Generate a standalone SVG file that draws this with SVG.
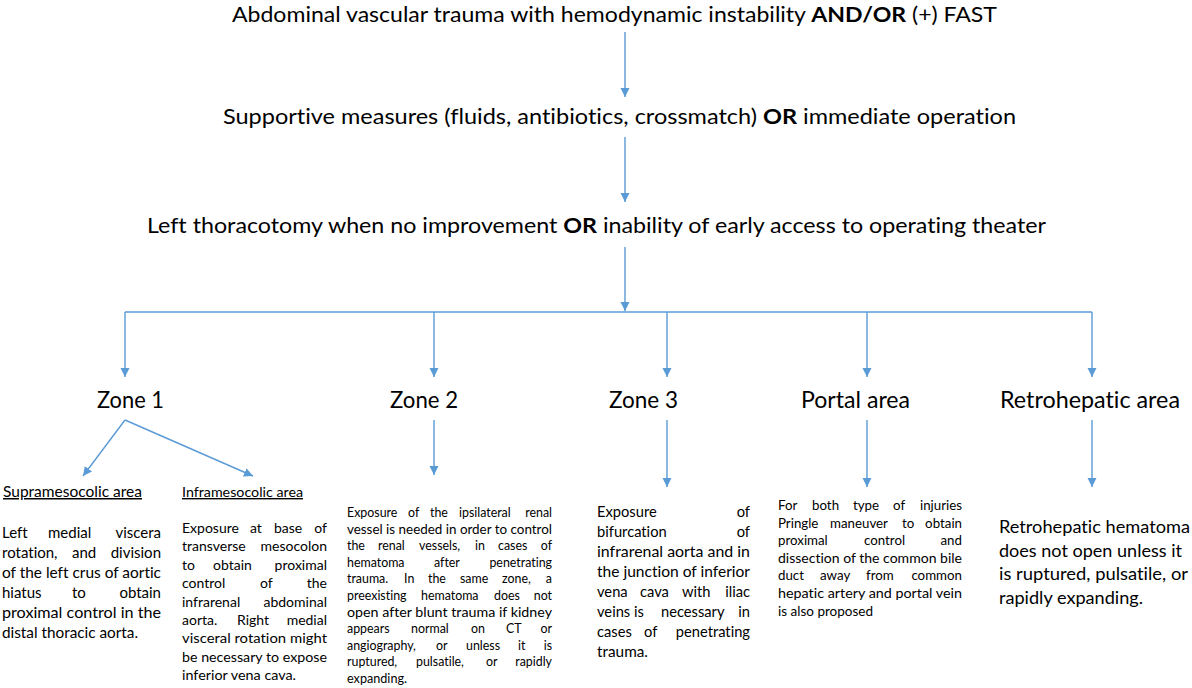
<svg xmlns="http://www.w3.org/2000/svg" width="1192" height="688" viewBox="0 0 1192 688">
<style>
text{font-family:Lato,"Open Sans","Liberation Sans",sans-serif;fill:#000;font-variant-ligatures:none}
.t{font-size:21px}
.z{font-size:22.4px}
.b{font-weight:bold}
.s1{font-size:15px}
.s2{font-size:14px}
.s3{font-size:12.4px}
.s4{font-size:14.7px}
.s5{font-size:13.3px}
.s6{font-size:17.8px}
.e{text-anchor:end}
.u{text-decoration:underline}
.c{fill:none;stroke:#5B9BD5;stroke-width:1.4;marker-end:url(#ah)}
</style>
<defs>
<marker id="ah" markerUnits="userSpaceOnUse" markerWidth="10" markerHeight="10" refX="9" refY="4.5" orient="auto">
<path d="M0,0 L9,4.5 L0,9 z" fill="#5B9BD5"/>
</marker>
</defs>
<rect width="1192" height="688" fill="#fff"/>
<g id="connectors">
<path class="c" d="M625,32 V97"/>
<path class="c" d="M625,137 V202"/>
<path class="c" d="M625,247 V311"/>
<path d="M125,312 H1092" fill="none" stroke="#5B9BD5" stroke-width="1.4"/>
<path class="c" d="M125,312 V377"/>
<path class="c" d="M434,312 V377"/>
<path class="c" d="M667,312 V377"/>
<path class="c" d="M867,312 V377"/>
<path class="c" d="M1092,312 V377"/>
<path class="c" d="M125,420 L83,476"/>
<path class="c" d="M125,420 L253,476"/>
<path class="c" d="M434,420 V475"/>
<path class="c" d="M667,420 V487"/>
<path class="c" d="M867,420 V487"/>
<path class="c" d="M1092,420 V487"/>
</g>
<g id="title1"><text class="t" x="232" y="22" textLength="765" lengthAdjust="spacingAndGlyphs">Abdominal vascular trauma with hemodynamic instability <tspan class="b">AND/OR</tspan> (+) FAST</text></g>
<g id="title2"><text class="t" x="223" y="124" textLength="793" lengthAdjust="spacingAndGlyphs">Supportive measures (fluids, antibiotics, crossmatch) <tspan class="b">OR</tspan> immediate operation</text></g>
<g id="title3"><text class="t" x="147" y="233" textLength="899" lengthAdjust="spacingAndGlyphs">Left thoracotomy when no improvement <tspan class="b">OR</tspan> inability of early access to operating theater</text></g>
<g id="zone1"><text class="z" x="97" y="408" textLength="67" lengthAdjust="spacingAndGlyphs">Zone 1</text></g>
<g id="zone2"><text class="z" x="390" y="408" textLength="68" lengthAdjust="spacingAndGlyphs">Zone 2</text></g>
<g id="zone3"><text class="z" x="609" y="408" textLength="69" lengthAdjust="spacingAndGlyphs">Zone 3</text></g>
<g id="portal"><text class="z" x="801" y="408" textLength="109" lengthAdjust="spacingAndGlyphs">Portal area</text></g>
<g id="retrohepatic"><text class="z" x="1000" y="408" textLength="180" lengthAdjust="spacingAndGlyphs">Retrohepatic area</text></g>
<g id="supramesocolic" class="s1">
<text class="s1 u" x="3" y="497" textLength="139" lengthAdjust="spacingAndGlyphs">Supramesocolic area</text>
<text class="s1" y="538"><tspan x="2">Left</tspan><tspan x="48">medial</tspan></text><text class="s1 e" x="161" y="538">viscera</text>
<text class="s1" y="558"><tspan x="2">rotation,</tspan><tspan x="72">and</tspan></text><text class="s1 e" x="161" y="558">division</text>
<text class="s1" x="2" y="578" textLength="159" lengthAdjust="spacingAndGlyphs">of the left crus of aortic</text>
<text class="s1" y="598"><tspan x="2">hiatus</tspan><tspan x="72">to</tspan></text><text class="s1 e" x="161" y="598">obtain</text>
<text class="s1" x="2" y="618" textLength="159" lengthAdjust="spacingAndGlyphs">proximal control in the</text>
<text class="s1" x="2" y="638" textLength="136" lengthAdjust="spacingAndGlyphs">distal thoracic aorta.</text>
</g>
<g id="inframesocolic">
<text class="s2 u" x="182" y="497" textLength="121" lengthAdjust="spacingAndGlyphs">Inframesocolic area</text>
<text class="s2" y="533"><tspan x="182">Exposure</tspan><tspan x="250">at</tspan><tspan x="274">base</tspan></text><text class="s2 e" x="327" y="533">of</text>
<text class="s2" y="551"><tspan x="182">transverse</tspan></text><text class="s2 e" x="327" y="551">mesocolon</text>
<text class="s2" y="570"><tspan x="182">to</tspan><tspan x="213">obtain</tspan></text><text class="s2 e" x="327" y="570">proximal</text>
<text class="s2" y="588"><tspan x="182">control</tspan><tspan x="260">of</tspan></text><text class="s2 e" x="327" y="588">the</text>
<text class="s2" y="607"><tspan x="182">infrarenal</tspan></text><text class="s2 e" x="327" y="607">abdominal</text>
<text class="s2" y="625"><tspan x="182">aorta.</tspan><tspan x="237">Right</tspan></text><text class="s2 e" x="327" y="625">medial</text>
<text class="s2" x="182" y="643" textLength="145" lengthAdjust="spacingAndGlyphs">visceral rotation might</text>
<text class="s2" x="182" y="662" textLength="145" lengthAdjust="spacingAndGlyphs">be necessary to expose</text>
<text class="s2" x="182" y="680" textLength="114" lengthAdjust="spacingAndGlyphs">inferior vena cava.</text>
</g>
<g id="zone2-text">
<text class="s3" y="517"><tspan x="347">Exposure</tspan><tspan x="408">of</tspan><tspan x="430">the</tspan><tspan x="459">ipsilateral</tspan></text><text class="s3 e" x="552" y="517">renal</text>
<text class="s3" x="347" y="534" textLength="205" lengthAdjust="spacingAndGlyphs">vessel is needed in order to control</text>
<text class="s3" y="550"><tspan x="347">the</tspan><tspan x="378">renal</tspan><tspan x="419">vessels,</tspan><tspan x="475">in</tspan><tspan x="498">cases</tspan></text><text class="s3 e" x="552" y="550">of</text>
<text class="s3" y="567"><tspan x="347">hematoma</tspan><tspan x="434">after</tspan></text><text class="s3 e" x="552" y="567">penetrating</text>
<text class="s3" y="583"><tspan x="347">trauma.</tspan><tspan x="404">In</tspan><tspan x="428">the</tspan><tspan x="460">same</tspan><tspan x="502">zone,</tspan></text><text class="s3 e" x="552" y="583">a</text>
<text class="s3" y="600"><tspan x="347">preexisting</tspan><tspan x="421">hematoma</tspan><tspan x="494">does</tspan></text><text class="s3 e" x="552" y="600">not</text>
<text class="s3" x="347" y="617" textLength="205" lengthAdjust="spacingAndGlyphs">open after blunt trauma if kidney</text>
<text class="s3" y="633"><tspan x="347">appears</tspan><tspan x="411">normal</tspan><tspan x="471">on</tspan><tspan x="506">CT</tspan></text><text class="s3 e" x="552" y="633">or</text>
<text class="s3" y="650"><tspan x="347">angiography,</tspan><tspan x="436">or</tspan><tspan x="466">unless</tspan><tspan x="518">it</tspan></text><text class="s3 e" x="552" y="650">is</text>
<text class="s3" y="666"><tspan x="347">ruptured,</tspan><tspan x="416">pulsatile,</tspan><tspan x="486">or</tspan></text><text class="s3 e" x="552" y="666">rapidly</text>
<text class="s3" x="347" y="683" textLength="60" lengthAdjust="spacingAndGlyphs">expanding.</text>
</g>
<g id="zone3-text">
<text class="s4" x="597" y="517">Exposure</text><text class="s4 e" x="750" y="517">of</text>
<text class="s4" x="597" y="537">bifurcation</text><text class="s4 e" x="750" y="537">of</text>
<text class="s4" x="597" y="557" textLength="153" lengthAdjust="spacingAndGlyphs">infrarenal aorta and in</text>
<text class="s4" x="597" y="577" textLength="153" lengthAdjust="spacingAndGlyphs">the junction of inferior</text>
<text class="s4" y="597"><tspan x="597">vena</tspan><tspan x="640">cava</tspan><tspan x="682">with</tspan></text><text class="s4 e" x="750" y="597">iliac</text>
<text class="s4" y="617"><tspan x="597">veins</tspan><tspan x="634">is</tspan><tspan x="661">necessary</tspan></text><text class="s4 e" x="750" y="617">in</text>
<text class="s4" y="637"><tspan x="597">cases</tspan><tspan x="644">of</tspan></text><text class="s4 e" x="750" y="637">penetrating</text>
<text class="s4" x="597" y="657" textLength="51" lengthAdjust="spacingAndGlyphs">trauma.</text>
</g>
<g id="portal-text">
<text class="s5" y="510"><tspan x="778">For</tspan><tspan x="812">both</tspan><tspan x="853">type</tspan><tspan x="893">of</tspan></text><text class="s5 e" x="962" y="510">injuries</text>
<text class="s5" y="528"><tspan x="778">Pringle</tspan><tspan x="830">maneuver</tspan><tspan x="902">to</tspan></text><text class="s5 e" x="962" y="528">obtain</text>
<text class="s5" y="545"><tspan x="778">proximal</tspan><tspan x="864">control</tspan></text><text class="s5 e" x="962" y="545">and</text>
<text class="s5" x="778" y="563" textLength="184" lengthAdjust="spacingAndGlyphs">dissection of the common bile</text>
<text class="s5" y="580"><tspan x="778">duct</tspan><tspan x="820">away</tspan><tspan x="866">from</tspan></text><text class="s5 e" x="962" y="580">common</text>
<text class="s5" x="778" y="598" textLength="184" lengthAdjust="spacingAndGlyphs">hepatic artery and portal vein</text>
<text class="s5" x="778" y="616" textLength="95" lengthAdjust="spacingAndGlyphs">is also proposed</text>
</g>
<g id="retrohepatic-text">
<text class="s6" x="999" y="533" textLength="191" lengthAdjust="spacingAndGlyphs">Retrohepatic hematoma</text>
<text class="s6" x="999" y="556.5" textLength="183" lengthAdjust="spacingAndGlyphs">does not open unless it</text>
<text class="s6" x="999" y="580" textLength="189" lengthAdjust="spacingAndGlyphs">is ruptured, pulsatile, or</text>
<text class="s6" x="999" y="603.5" textLength="144" lengthAdjust="spacingAndGlyphs">rapidly expanding.</text>
</g>
</svg>
